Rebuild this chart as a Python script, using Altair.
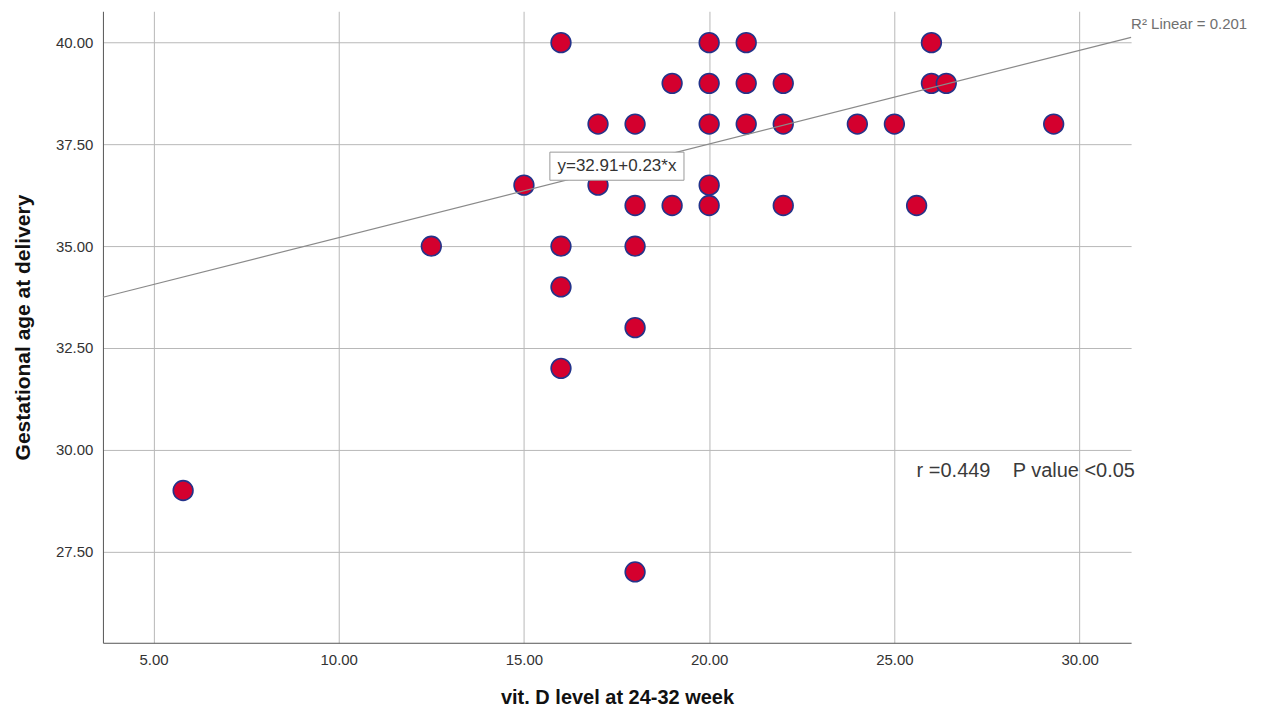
import altair as alt
import pandas as pd

# Data
vitd = [16, 20, 21, 26,
        19, 20, 21, 22, 26, 26.4,
        17, 18, 20, 21, 22, 24, 25, 29.3,
        15, 17, 20,
        18, 19, 20, 22, 25.6,
        12.5, 16, 18,
        16, 18, 16, 5.8, 18]
ga = [40, 40, 40, 40,
      39, 39, 39, 39, 39, 39,
      38, 38, 38, 38, 38, 38, 38, 38,
      36.5, 36.5, 36.5,
      36, 36, 36, 36, 36,
      35, 35, 35,
      34, 33, 32, 29, 27]

x_ticks = [5, 10, 15, 20, 25, 30]
y_ticks = [27.5, 30, 32.5, 35, 37.5, 40]
x_domain = [3.635, 31.39]
y_domain = [25.26, 40.77]
intercept = 32.91
slope = 0.23

pts = pd.DataFrame({"x": vitd, "y": ga})
line_df = pd.DataFrame({"x": x_domain})

FONT = "Liberation Sans"

xs = alt.Scale(domain=x_domain, nice=False, zero=False)
ys = alt.Scale(domain=y_domain, nice=False, zero=False)

x_axis = alt.Axis(values=x_ticks, format=".2f", title="vit. D level at 24-32 week",
                  grid=True, gridColor="#b8b8b8", gridWidth=1,
                  domainColor="#555555", domainWidth=1, ticks=False,
                  labelFont=FONT, labelFontSize=15, labelColor="#333333",
                  labelPadding=10, titleFont=FONT, titleFontSize=20,
                  titleFontWeight="bold", titleColor="#111111", titlePadding=20)
y_axis = alt.Axis(values=y_ticks, format=".2f", title="Gestational age at delivery",
                  grid=True, gridColor="#b8b8b8", gridWidth=1,
                  domainColor="#555555", domainWidth=1, ticks=False,
                  labelFont=FONT, labelFontSize=15, labelColor="#333333",
                  labelPadding=10, titleFont=FONT, titleFontSize=21,
                  titleFontWeight="bold", titleColor="#111111", titlePadding=22)

points = alt.Chart(pts).mark_point(
    filled=True, size=390, fill="#d4002e", stroke="#24338a", strokeWidth=1.6, opacity=1
).encode(
    x=alt.X("x:Q", scale=xs, axis=x_axis),
    y=alt.Y("y:Q", scale=ys, axis=y_axis),
)

fit = alt.Chart(line_df).transform_calculate(
    y=f"{intercept} + {slope} * datum.x"
).mark_line(color="#8a8a8a", strokeWidth=1.2, clip=False).encode(
    x=alt.X("x:Q", scale=xs, axis=x_axis), y=alt.Y("y:Q", scale=ys, axis=y_axis)
)

box_df = pd.DataFrame({"x": [15.70], "x2": [19.32], "y": [37.31], "y2": [36.62],
                       "xc": [17.51], "yc": [36.965], "t": ["y=32.91+0.23*x"]})
box = alt.Chart(box_df).mark_rect(fill="white", stroke="#9a9a9a", strokeWidth=1).encode(
    x=alt.X("x:Q", scale=xs, axis=x_axis), x2="x2:Q",
    y=alt.Y("y:Q", scale=ys, axis=y_axis), y2="y2:Q"
)
box_text = alt.Chart(box_df).mark_text(font=FONT, fontSize=17, color="#333333").encode(
    x=alt.X("xc:Q", scale=xs, axis=x_axis), y=alt.Y("yc:Q", scale=ys, axis=y_axis), text="t:N"
)

ann_df = pd.DataFrame({"x": [25.6], "y": [29.48],
                       "t": ["r =0.449\u00a0\u00a0\u00a0 P value <0.05"]})
ann = alt.Chart(ann_df).mark_text(font=FONT, fontSize=20, color="#3a3a3a", align="left").encode(
    x=alt.X("x:Q", scale=xs, axis=x_axis), y=alt.Y("y:Q", scale=ys, axis=y_axis), text="t:N"
)

r2_df = pd.DataFrame({"x": [31.39], "y": [40.45], "t": ["R² Linear = 0.201"]})
r2 = alt.Chart(r2_df).mark_text(font=FONT, fontSize=15, color="#707070", align="left",
                                 clip=False).encode(
    x=alt.X("x:Q", scale=xs, axis=x_axis), y=alt.Y("y:Q", scale=ys, axis=y_axis), text="t:N"
)

chart = alt.layer(points, fit, box, box_text, ann, r2).properties(
    width=1029, height=632,
    background="white",
    autosize=alt.AutoSizeParams(type="none"),
    padding={"left": 95, "top": 3, "right": 130, "bottom": 65},
).configure_view(stroke=None)

chart.save("out.html", embed_options={"renderer": "svg", "actions": False})
